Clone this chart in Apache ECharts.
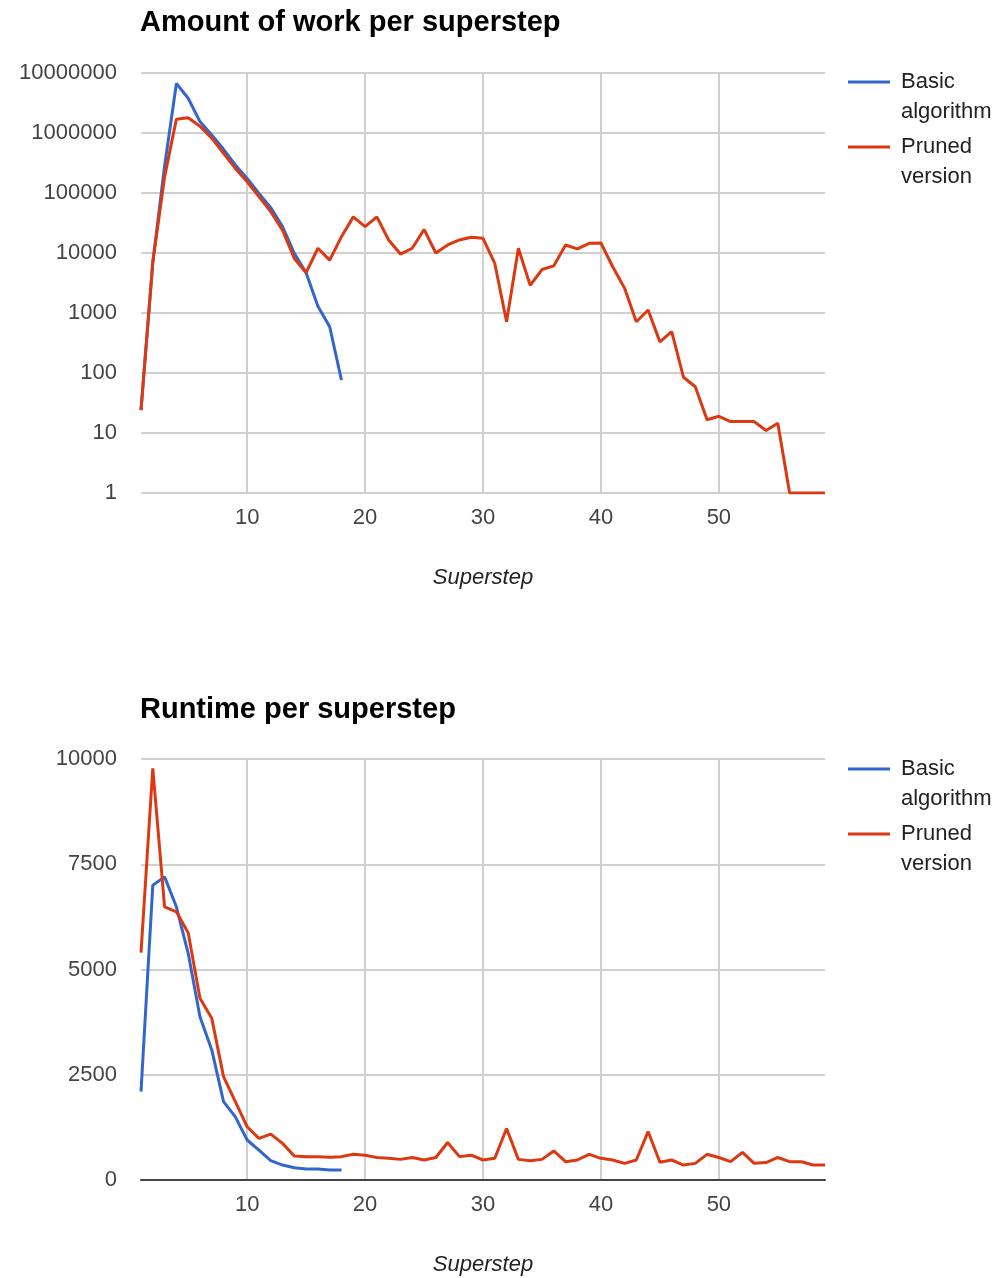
<!DOCTYPE html>
<html>
<head>
<meta charset="utf-8">
<title>Amount of work and runtime per superstep</title>
<script src="https://cdn.jsdelivr.net/npm/echarts@6/dist/echarts.min.js"></script>
<style>
  html, body { margin: 0; padding: 0; background: #fff; }
  #chart { width: 1004px; height: 1278px; }
</style>
</head>
<body>
<div id="chart"></div>
<script>
// Series names
const seriesNames = ['Basic algorithm', 'Pruned version'];
const chartTitles = ['Amount of work per superstep', 'Runtime per superstep'];
const xAxisTitle = 'Superstep';

// Amount of work per superstep (log scale)
const basicWork = [24, 7000, 280000, 6700000, 3800000, 1550000, 930000, 535000, 293000, 175000,
  98000, 57000, 27500, 9900, 4700, 1290, 590, 76];
const prunedWork = [24, 7000, 186000, 1700000, 1800000, 1300000, 820000, 460000, 257000, 154000,
  87000, 49000, 24000, 8100, 4700, 12000, 7600, 18700, 40000, 27500,
  40000, 16500, 9600, 12000, 24700, 10000, 13600, 16500, 18300, 17600,
  6700, 716, 12000, 2900, 5300, 6100, 13600, 11700, 14500, 14700,
  5900, 2600, 716, 1120, 330, 490, 85, 59, 16.6, 19,
  15.5, 15.5, 15.5, 11, 14.5, 1, 1, 1, 1];

// Runtime per superstep
const basicTime = [2100, 7000, 7200, 6490, 5385, 3880, 3090, 1860, 1500, 950,
  710, 460, 355, 290, 260, 260, 240, 240];
const prunedTime = [5400, 9780, 6490, 6370, 5875, 4315, 3840, 2455, 1860, 1265,
  990, 1090, 870, 570, 555, 555, 540, 555, 610, 590,
  535, 515, 490, 535, 475, 535, 890, 555, 590, 475,
  515, 1225, 490, 460, 490, 690, 435, 475, 610, 515,
  475, 395, 475, 1150, 420, 475, 355, 395, 610, 535,
  435, 655, 395, 415, 535, 435, 435, 355, 355];

// Axis ranges
const stepRange = [1, 59];
const workRange = [1, 10000000];
const timeRange = [0, 10000];
const timeTickStep = 2500;

// Superstep numbers start at 1
const withSteps = vals => vals.map((v, i) => [i + 1, v]);

const FONT = '"Liberation Sans", Arial, sans-serif';
const BLUE = '#3366cc';
const RED = '#dc3912';
const GRID_COLOR = '#d0d0d0';
const LABEL_COLOR = '#444';

function xAxisFor(gridIndex, darkBase) {
  return {
    type: 'value',
    gridIndex: gridIndex,
    min: stepRange[0],
    max: stepRange[1],
    minInterval: 10,
    maxInterval: 10,
    name: xAxisTitle,
    nameLocation: 'middle',
    nameGap: 74,
    nameTextStyle: { fontFamily: FONT, fontSize: 22, fontStyle: 'italic', color: '#222' },
    axisLine: darkBase
      ? { show: true, onZero: false, lineStyle: { color: '#444', width: 2 } }
      : { show: false },
    axisTick: { show: false },
    axisLabel: {
      margin: 14,
      fontFamily: FONT, fontSize: 22, color: LABEL_COLOR,
      formatter: v => (v % 10 === 0 ? String(v) : '')
    },
    splitLine: {
      show: true, showMinLine: false, showMaxLine: false,
      lineStyle: { color: GRID_COLOR, width: 2 }
    }
  };
}

// Two-line legend entry; the leading empty line keeps the swatch level with the first word
function legendFor(name, top) {
  return {
    data: [name],
    orient: 'vertical',
    left: 848,
    top: top,
    padding: 0,
    itemWidth: 42,
    itemHeight: 3,
    itemGap: 0,
    icon: 'rect',
    formatter: n => ' \n' + n.replace(' ', '\n'),
    textStyle: {
      fontFamily: FONT, fontSize: 22, lineHeight: 30, color: '#222',
      padding: [0, 0, 0, 6]
    }
  };
}

const titleStyle = { fontFamily: FONT, fontSize: 29, fontWeight: 'bold', color: '#000' };

const option = {
  backgroundColor: '#fff',
  animation: false,
  title: [
    { text: chartTitles[0], left: 140, top: 8, padding: 0, textStyle: titleStyle },
    { text: chartTitles[1], left: 140, top: 695, padding: 0, textStyle: titleStyle }
  ],
  legend: [
    legendFor(seriesNames[0], 37),
    legendFor(seriesNames[1], 102),
    legendFor(seriesNames[0], 724),
    legendFor(seriesNames[1], 789)
  ],
  grid: [
    { left: 141, top: 73, width: 684, height: 420 },
    { left: 141, top: 759, width: 684, height: 421 }
  ],
  xAxis: [xAxisFor(0, false), xAxisFor(1, true)],
  yAxis: [
    {
      type: 'log',
      logBase: 10,
      gridIndex: 0,
      min: workRange[0],
      max: workRange[1],
      axisLine: { show: false },
      axisTick: { show: false },
      axisLabel: {
        margin: 24, fontFamily: FONT, fontSize: 22, color: LABEL_COLOR,
        formatter: v => String(Math.round(v))
      },
      splitLine: { show: true, lineStyle: { color: GRID_COLOR, width: 2 } }
    },
    {
      type: 'value',
      gridIndex: 1,
      min: timeRange[0],
      max: timeRange[1],
      interval: timeTickStep,
      axisLine: { show: false },
      axisTick: { show: false },
      axisLabel: {
        margin: 24, fontFamily: FONT, fontSize: 22, color: LABEL_COLOR,
        formatter: v => String(v)
      },
      splitLine: { show: true, lineStyle: { color: GRID_COLOR, width: 2 } }
    }
  ],
  series: [
    { name: seriesNames[0], type: 'line', xAxisIndex: 0, yAxisIndex: 0,
      data: withSteps(basicWork), showSymbol: false, color: BLUE,
      lineStyle: { width: 3, color: BLUE } },
    { name: seriesNames[1], type: 'line', xAxisIndex: 0, yAxisIndex: 0,
      data: withSteps(prunedWork), showSymbol: false, color: RED,
      lineStyle: { width: 3, color: RED } },
    { name: seriesNames[0], type: 'line', xAxisIndex: 1, yAxisIndex: 1,
      data: withSteps(basicTime), showSymbol: false, color: BLUE,
      lineStyle: { width: 3, color: BLUE } },
    { name: seriesNames[1], type: 'line', xAxisIndex: 1, yAxisIndex: 1,
      data: withSteps(prunedTime), showSymbol: false, color: RED,
      lineStyle: { width: 3, color: RED } }
  ]
};

const chart = echarts.init(document.getElementById('chart'), null, { renderer: 'canvas' });
chart.setOption(option);
</script>
</body>
</html>
